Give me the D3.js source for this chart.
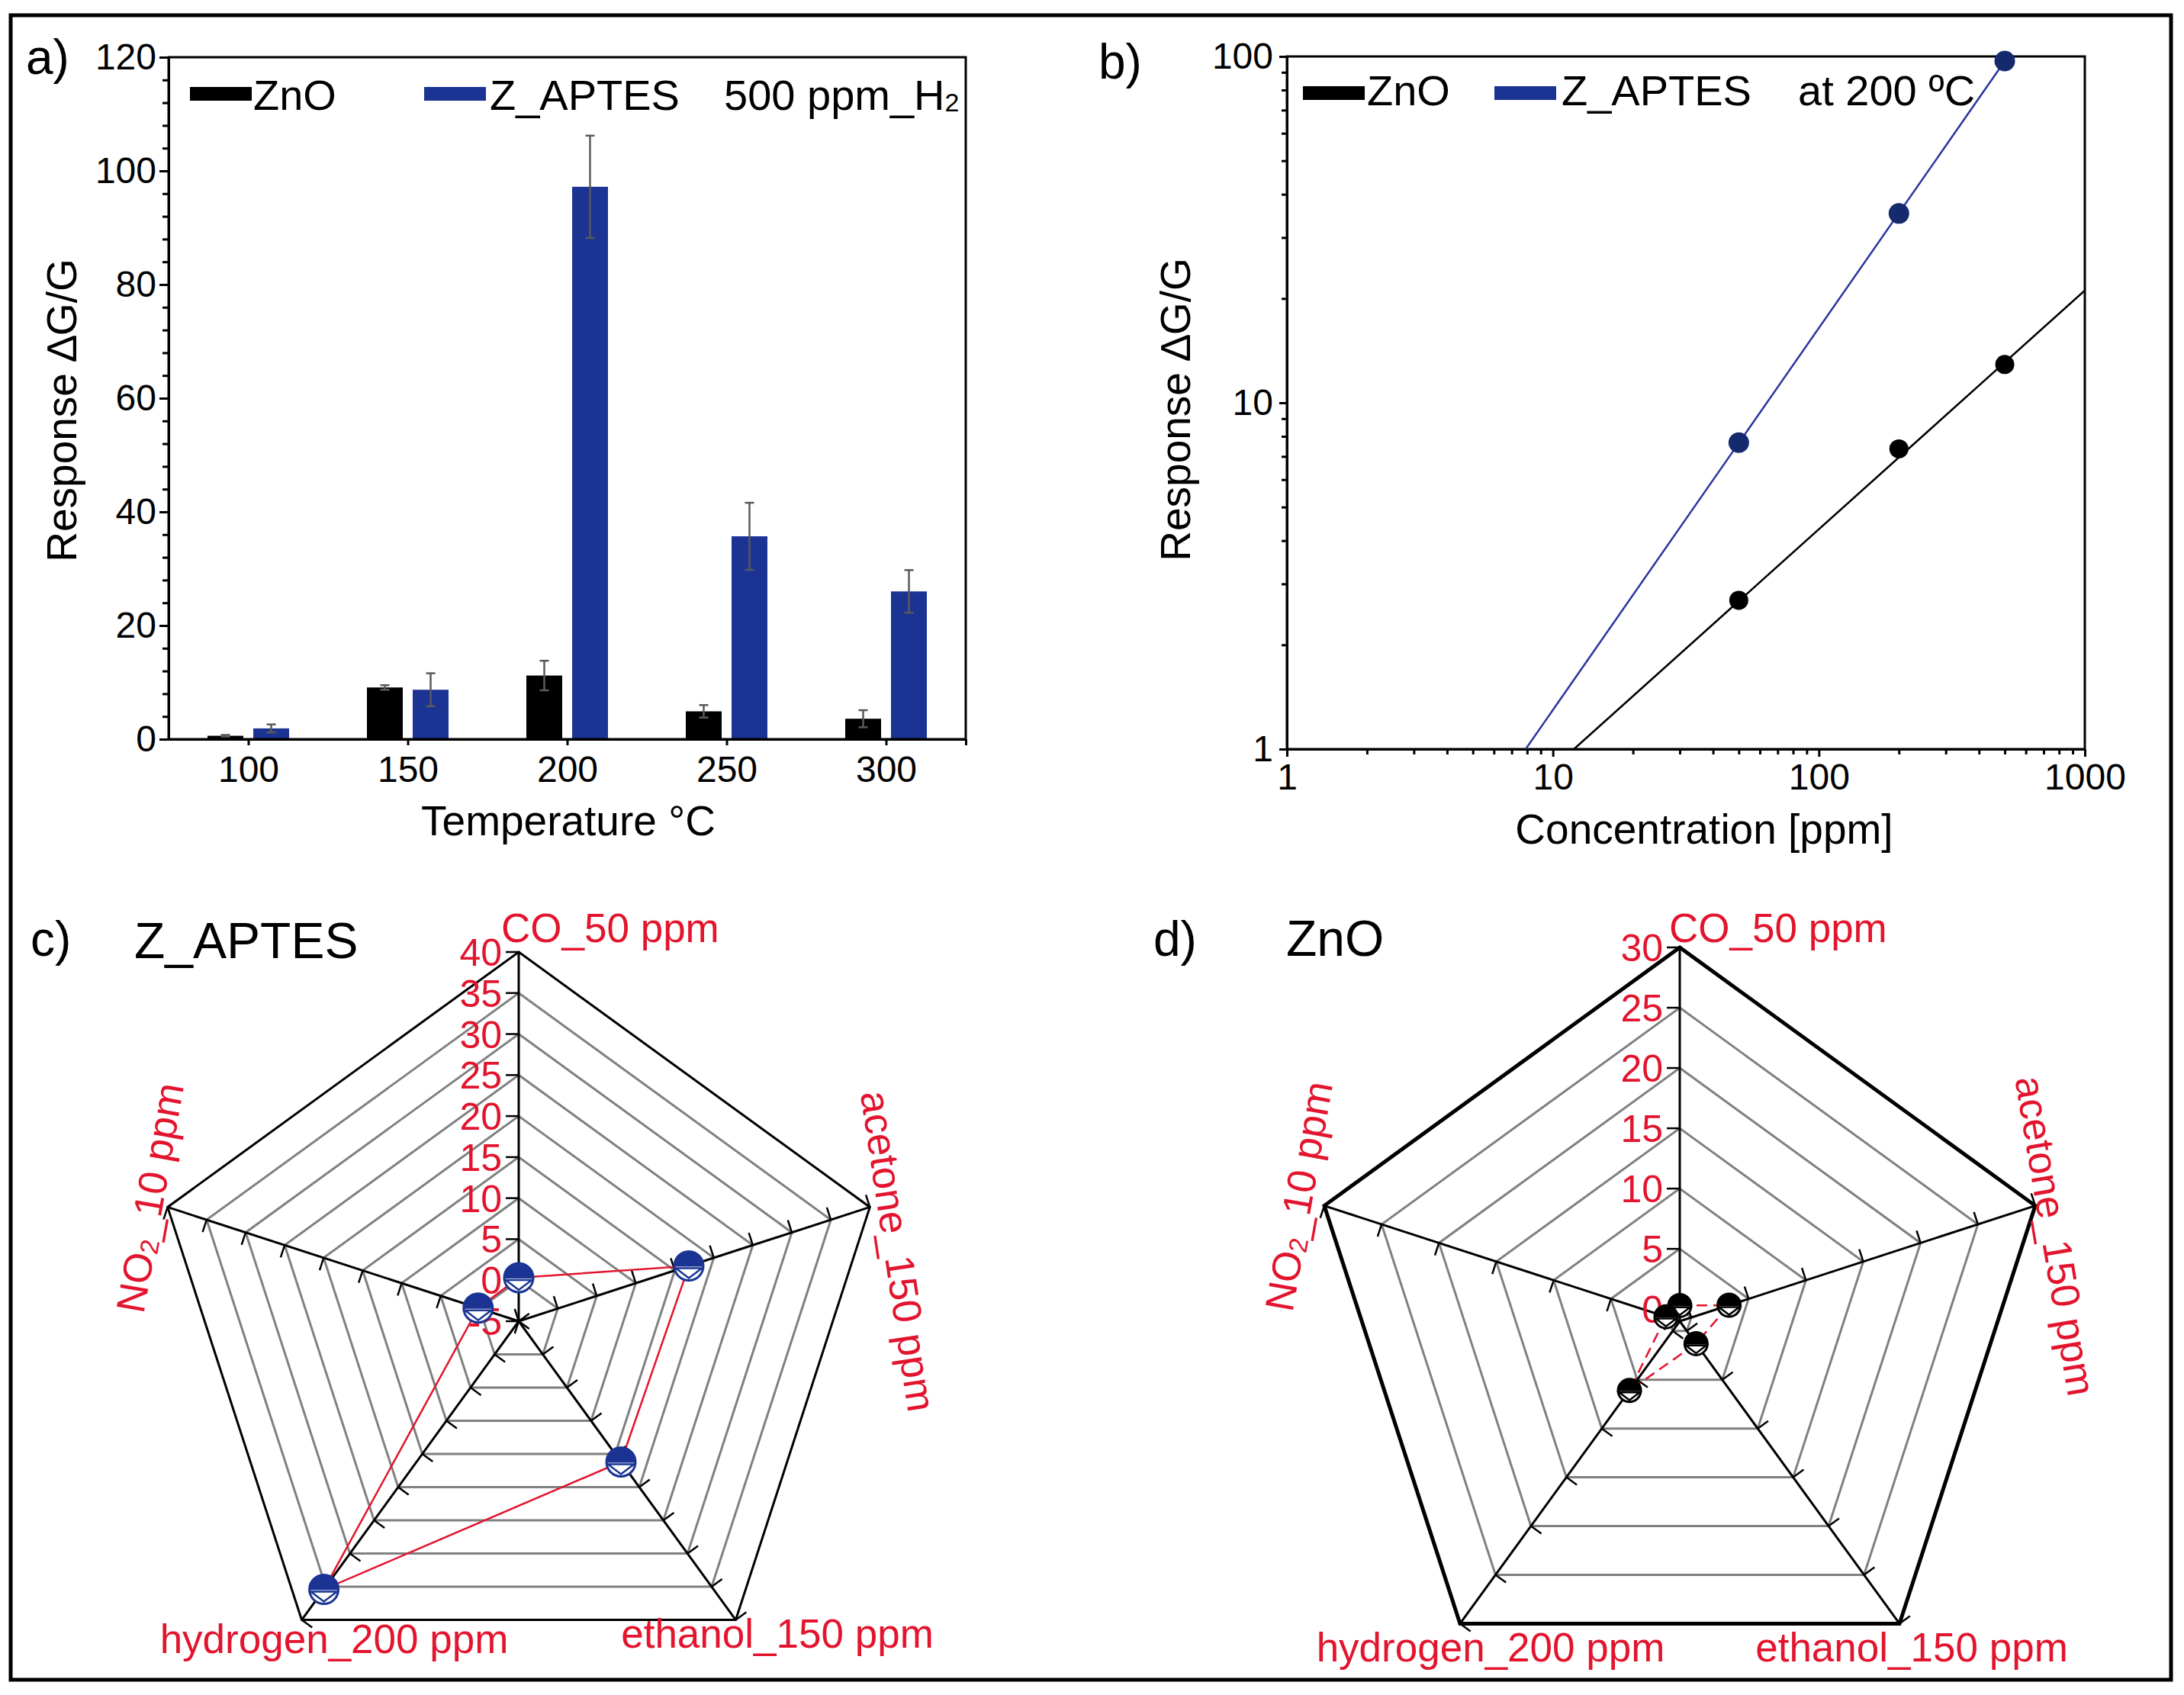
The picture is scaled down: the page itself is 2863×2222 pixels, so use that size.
<!DOCTYPE html>
<html><head><meta charset="utf-8">
<script src="https://cdn.jsdelivr.net/npm/d3@7"></script>
<style>
html,body{margin:0;padding:0;background:#fff;}
svg{display:block;}
text{font-family:"Liberation Sans",Arial,Helvetica,sans-serif;}
</style></head><body>
<svg id="chart" width="2863" height="2222"></svg>
<script>
// ---------------- data ----------------
const temperatures = [100, 150, 200, 250, 300];
const znoResponse   = [0.6, 9.1, 11.2, 4.9, 3.6];
const znoError      = [0.15, 0.4, 2.6, 1.1, 1.5];
const aptesResponse = [1.9, 8.7, 97.2, 35.7, 26.0];
const aptesError    = [0.7, 2.9, 9.0, 5.9, 3.75];
const tempTicks  = [100, 150, 200, 250, 300];
const respTicksA = [0, 20, 40, 60, 80, 100, 120];

const concentrations = [50, 200, 500];
const znoConc   = [2.69, 7.36, 12.9];
const aptesConc = [7.67, 35.2, 97];
const znoFit   = [[12, 1], [1000, 21.1]];
const aptesFit = [[7.9, 1], [500, 97]];
const concTicks  = [1, 10, 100, 1000];
const respTicksB = [1, 10, 100];

const gases = ["CO_50 ppm", "acetone_150 ppm", "ethanol_150 ppm", "hydrogen_200 ppm", "NO2_10 ppm"];
const radarAptes = [0.3, 16.8, 16.2, 35.4, 0.2];
const radarZno   = [0.3, 3.3, 1.3, 6.1, 0.2];
const ringsC = [-5, 0, 5, 10, 15, 20, 25, 30, 35, 40];
const ringsD = [0, 5, 10, 15, 20, 25, 30];

// ---------------- setup ----------------
const svg = d3.select("#chart");
const FONT = '"Liberation Sans",Arial,Helvetica,sans-serif';
const RED = "#e3142d";
const BLUE = "#1b3494";
const NAVY = "#142a6c";

svg.append("rect").attr("x", 14).attr("y", 20).attr("width", 2832).attr("height", 2182)
  .attr("fill", "none").attr("stroke", "#000").attr("stroke-width", 5);

function styleAxis(g, fs) {
  g.attr("font-family", FONT);
  g.selectAll("text").attr("font-size", fs).attr("fill", "#000");
  g.selectAll("line").attr("stroke", "#000").attr("stroke-width", 3);
  g.select(".domain").attr("stroke", "#000").attr("stroke-width", 3);
}
function txt(x, y, s, fs, opts = {}) {
  const t = svg.append("text").attr("x", x).attr("y", y).attr("font-size", fs)
    .attr("fill", opts.fill || "#000").attr("text-anchor", opts.anchor || "start").text(s);
  if (opts.rotate !== undefined) t.attr("transform", `rotate(${opts.rotate},${x},${y})`);
  return t;
}

// ---------------- panel a ----------------
const xA = d3.scaleLinear().domain([75, 325]).range([221, 1266]);
const yA = d3.scaleLinear().domain([0, 120]).range([969, 75]);
const gA = svg.append("g");
const barW = 47, barOff = 30;
const barData = temperatures.map((t, i) => ({ t, zno: znoResponse[i], ze: znoError[i], ap: aptesResponse[i], ae: aptesError[i] }));

gA.selectAll("rect.zno").data(barData).join("rect").attr("class", "zno")
  .attr("x", d => xA(d.t) - barOff - barW / 2).attr("y", d => yA(d.zno))
  .attr("width", barW).attr("height", d => yA(0) - yA(d.zno)).attr("fill", "#000");
gA.selectAll("rect.ap").data(barData).join("rect").attr("class", "ap")
  .attr("x", d => xA(d.t) + barOff - barW / 2).attr("y", d => yA(d.ap))
  .attr("width", barW).attr("height", d => yA(0) - yA(d.ap)).attr("fill", BLUE);

function errBars(off, vKey, eKey) {
  const g = gA.append("g").attr("stroke", "#5a5a5a").attr("stroke-width", 2.5);
  barData.forEach(d => {
    const cx = xA(d.t) + off, v = d[vKey], e = d[eKey];
    g.append("line").attr("x1", cx).attr("x2", cx).attr("y1", yA(v - e)).attr("y2", yA(v + e));
    g.append("line").attr("x1", cx - 6).attr("x2", cx + 6).attr("y1", yA(v - e)).attr("y2", yA(v - e));
    g.append("line").attr("x1", cx - 6).attr("x2", cx + 6).attr("y1", yA(v + e)).attr("y2", yA(v + e));
  });
}
errBars(-barOff, "zno", "ze");
errBars(barOff, "ap", "ae");

// frame
gA.append("rect").attr("x", xA(75)).attr("y", yA(120)).attr("width", xA(325) - xA(75)).attr("height", yA(0) - yA(120))
  .attr("fill", "none").attr("stroke", "#000").attr("stroke-width", 3);
// axes
const ayA = gA.append("g").attr("transform", `translate(${xA(75)},0)`)
  .call(d3.axisLeft(yA).tickValues(respTicksA).tickSize(12).tickPadding(4).tickSizeOuter(0));
styleAxis(ayA, 48);
const ayAm = gA.append("g").attr("transform", `translate(${xA(75)},0)`)
  .call(d3.axisLeft(yA).tickValues(d3.range(0, 121, 4).filter(v => v % 20 !== 0)).tickSize(8).tickFormat("").tickSizeOuter(0));
styleAxis(ayAm, 48);
const axA = gA.append("g").attr("transform", `translate(0,${yA(0)})`)
  .call(d3.axisBottom(xA).tickValues(tempTicks).tickSize(8).tickPadding(14).tickSizeOuter(0));
styleAxis(axA, 48);
const axAm = gA.append("g").attr("transform", `translate(0,${yA(0)})`)
  .call(d3.axisBottom(xA).tickValues([325]).tickSize(8).tickFormat("").tickSizeOuter(0));
styleAxis(axAm, 48);

// legend a
svg.append("rect").attr("x", 249).attr("y", 114).attr("width", 81).attr("height", 18).attr("fill", "#000");
txt(332, 144, "ZnO", 56);
svg.append("rect").attr("x", 556).attr("y", 114).attr("width", 81).attr("height", 18).attr("fill", BLUE);
txt(642, 144, "Z_APTES", 56);
const tH = txt(949, 144, "500 ppm_H", 56);
tH.append("tspan").attr("font-size", 34).attr("dy", 2).text("2");

txt(745, 1095, "Temperature °C", 55, { anchor: "middle" });
txt(100, 538, "Response \u2206G/G", 55, { anchor: "middle", rotate: -90 });
txt(34, 97, "a)", 64);

// ---------------- panel b ----------------
const xB = d3.scaleLog().domain([1, 1000]).range([1687, 2733]);
const yB = d3.scaleLog().domain([1, 100]).range([982, 74]);
const gB = svg.append("g");
gB.append("rect").attr("x", xB(1)).attr("y", yB(100)).attr("width", xB(1000) - xB(1)).attr("height", yB(1) - yB(100))
  .attr("fill", "none").attr("stroke", "#000").attr("stroke-width", 3);
const minorLog = (lo, hi) => { const out = []; for (let p = lo; p < hi; p *= 10) for (let k = 2; k <= 9; k++) out.push(p * k); return out; };
const ayB = gB.append("g").attr("transform", `translate(${xB(1)},0)`)
  .call(d3.axisLeft(yB).tickValues(respTicksB).tickSize(10).tickPadding(8).tickFormat(d3.format("d")).tickSizeOuter(0));
styleAxis(ayB, 48);
const ayBm = gB.append("g").attr("transform", `translate(${xB(1)},0)`)
  .call(d3.axisLeft(yB).tickValues(minorLog(1, 100)).tickSize(7).tickFormat("").tickSizeOuter(0));
styleAxis(ayBm, 48);
const axB = gB.append("g").attr("transform", `translate(0,${yB(1)})`)
  .call(d3.axisBottom(xB).tickValues(concTicks).tickSize(10).tickPadding(9).tickFormat(d3.format("d")).tickSizeOuter(0));
styleAxis(axB, 48);
const axBm = gB.append("g").attr("transform", `translate(0,${yB(1)})`)
  .call(d3.axisBottom(xB).tickValues(minorLog(1, 1000)).tickSize(7).tickFormat("").tickSizeOuter(0));
styleAxis(axBm, 48);

const lineB = d3.line().x(d => xB(d[0])).y(d => yB(d[1]));
gB.append("path").attr("d", lineB(znoFit)).attr("fill", "none").attr("stroke", "#000").attr("stroke-width", 2.5);
gB.append("path").attr("d", lineB(aptesFit)).attr("fill", "none").attr("stroke", "#2a36a0").attr("stroke-width", 2.5);
gB.selectAll("circle.z").data(concentrations).join("circle").attr("class", "z")
  .attr("cx", d => xB(d)).attr("cy", (d, i) => yB(znoConc[i])).attr("r", 12.5).attr("fill", "#000");
gB.selectAll("circle.a").data(concentrations).join("circle").attr("class", "a")
  .attr("cx", d => xB(d)).attr("cy", (d, i) => yB(aptesConc[i])).attr("r", 13.5).attr("fill", NAVY);

svg.append("rect").attr("x", 1708).attr("y", 113).attr("width", 81).attr("height", 18).attr("fill", "#000");
txt(1792, 138, "ZnO", 56);
svg.append("rect").attr("x", 1959).attr("y", 113).attr("width", 81).attr("height", 18).attr("fill", BLUE);
txt(2047, 138, "Z_APTES", 56);
txt(2357, 138, "at 200 ºC", 56);
txt(2234, 1106, "Concentration [ppm]", 55, { anchor: "middle" });
txt(1560, 537, "Response \u2206G/G", 55, { anchor: "middle", rotate: -90 });
txt(1440, 103, "b)", 64);

// ---------------- radar charts ----------------
function radar(cfg) {
  const g = svg.append("g");
  const n = gases.length;
  const r = d3.scaleLinear().domain(cfg.domain).range([0, cfg.radius]);
  const ang = i => i * 2 * Math.PI / n;
  const pt = (i, v) => [cfg.cx + r(v) * Math.sin(ang(i)), cfg.cy - r(v) * Math.cos(ang(i))];
  const vmax = cfg.domain[1];
  cfg.rings.forEach(v => {
    if (r(v) <= 0.5) return;
    const outer = v === vmax;
    g.append("polygon").attr("points", d3.range(n).map(i => pt(i, v).join(",")).join(" "))
      .attr("fill", "none").attr("stroke", outer ? "#000" : "#808080")
      .attr("stroke-width", outer ? cfg.outerWidth : 3).attr("stroke-linejoin", "miter");
  });
  d3.range(n).forEach(i => {
    const [x2, y2] = pt(i, vmax);
    g.append("line").attr("x1", cfg.cx).attr("y1", cfg.cy).attr("x2", x2).attr("y2", y2)
      .attr("stroke", "#000").attr("stroke-width", 3);
    const dx = Math.sin(ang(i)), dy = -Math.cos(ang(i));
    cfg.rings.forEach(v => {
      const [px, py] = pt(i, v);
      g.append("line").attr("x1", px).attr("y1", py).attr("x2", px + dy * 17).attr("y2", py - dx * 17)
        .attr("stroke", "#000").attr("stroke-width", 2.5);
    });
  });
  cfg.rings.forEach(v => {
    const [, py] = pt(0, v);
    g.append("text").attr("x", cfg.cx - 22).attr("y", py).attr("dy", "0.36em")
      .attr("text-anchor", "end").attr("font-size", 50).attr("fill", RED).text(v);
  });
  const pts = cfg.values.map((v, i) => pt(i, v));
  g.append("path").attr("d", d3.line().curve(d3.curveLinearClosed)(pts))
    .attr("fill", "none").attr("stroke", RED).attr("stroke-width", 2.5)
    .attr("stroke-dasharray", cfg.dash || null);
  const mr = cfg.markerR;
  pts.forEach(([x, y]) => {
    const m = g.append("g").attr("transform", `translate(${x},${y})`);
    m.append("circle").attr("r", mr).attr("fill", "#fff").attr("stroke", cfg.markerColor).attr("stroke-width", 3);
    m.append("path").attr("d", `M${-mr},1 A${mr},${mr} 0 0 1 ${mr},1 Z`).attr("fill", cfg.markerColor);
    m.append("path").attr("d", `M${-mr * 0.9},${mr * 0.16} L${mr * 0.9},${mr * 0.16} L0,${mr * 0.84} Z`)
      .attr("fill", "none").attr("stroke", cfg.markerColor).attr("stroke-width", 2.5);
  });
}

radar({ cx: 680, cy: 1732, radius: 484, domain: [-5, 40], rings: ringsC, values: radarAptes,
        outerWidth: 3, markerR: 19, markerColor: BLUE });
radar({ cx: 2202, cy: 1732, radius: 490, domain: [-1, 30], rings: ringsD, values: radarZno,
        outerWidth: 5, markerR: 15, markerColor: "#000", dash: "14,8" });

function gasLabel(x, y, s, opts = {}) {
  const t = txt(x, y, "", 53, Object.assign({ fill: RED }, opts));
  if (s.startsWith("NO2")) {
    t.append("tspan").text("NO");
    t.append("tspan").attr("font-size", 34).attr("dy", 4).text("2");
    t.append("tspan").attr("dy", -4).text(s.slice(3));
  } else t.text(s);
  return t;
}
// c
gasLabel(657, 1235, gases[0]);
gasLabel(1178, 1640, gases[1], { anchor: "middle", rotate: 81.5 }).attr("dy", "0.36em");
gasLabel(1019, 2160, gases[2], { anchor: "middle" });
gasLabel(438, 2167, gases[3], { anchor: "middle" });
gasLabel(196, 1570, gases[4], { anchor: "middle", rotate: -80 }).attr("dy", "0.36em");
txt(40, 1253, "c)", 64);
txt(176, 1256, "Z_APTES", 66);
// d
gasLabel(2188, 1235, gases[0]);
gasLabel(2695, 1620, gases[1], { anchor: "middle", rotate: 80.5 }).attr("dy", "0.36em");
gasLabel(2506, 2178, gases[2], { anchor: "middle" });
gasLabel(1954, 2178, gases[3], { anchor: "middle" });
gasLabel(1702, 1568, gases[4], { anchor: "middle", rotate: -80 }).attr("dy", "0.36em");
txt(1512, 1253, "d)", 64);
txt(1686, 1253, "ZnO", 66);
</script>
</body></html>
